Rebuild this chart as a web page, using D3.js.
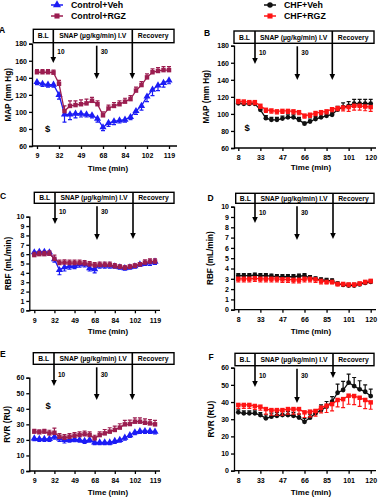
<!DOCTYPE html>
<html>
<head>
<meta charset="utf-8">
<script src="https://cdn.jsdelivr.net/npm/d3@7"></script>
<style>
  body { margin: 0; background: #fff; }
  text { font-family: "Liberation Sans", Arial, sans-serif; font-weight: bold; }
</style>
</head>
<body>
<script>
// tick labels (time, min) - 25 sample points, a label every 4th
const timeCtrl = ["9", "32", "49", "68", "84", "102", "119"];
const timeChf = ["8", "33", "47", "66", "85", "101", "120"];

// MAP (mm Hg)
const mapCtrlVeh = [135, 133, 132, 132, 120, 97, 97, 98, 98, 97, 96, 92, 82, 87, 89, 90, 91, 94, 101, 107, 118, 126, 131, 134, 137];
const mapCtrlVehErr = [3, 3, 3, 3, 5, 9, 6, 5, 4, 3, 3, 4, 4, 4, 4, 3, 3, 3, 4, 5, 6, 7, 6, 5, 4];
const mapCtrlRGZ = [146.5, 146.5, 146.5, 146, 133, 101, 107, 108, 109, 110, 113, 109, 96, 104, 107, 109, 112, 115, 125, 131.5, 140.5, 146.5, 148, 149, 149];
const mapCtrlRGZErr = [3, 3, 3, 3, 4, 6, 6, 5, 5, 5, 4, 4, 4, 4, 4, 4, 4, 4, 4, 4, 4, 4, 4, 4, 4];
const mapChfVeh = [112.5, 111.8, 111.8, 111.8, 104.8, 95, 93, 93, 94.5, 96, 96, 93, 88.5, 91, 94, 96, 97.8, 99, 105, 108, 109.5, 112, 112, 112, 112];
const mapChfVehErr = [2, 2, 2, 2, 2, 3, 3, 3, 3, 3, 3, 3, 2, 3, 3, 3, 3, 3, 4, 5, 5, 5, 5, 5, 5];
const mapChfRGZ = [115, 114.5, 113.8, 113.8, 109.5, 104.8, 104, 103, 103.5, 103.5, 103, 102, 98, 99, 101, 102, 103, 105.5, 106.8, 107.5, 108, 109.5, 109.5, 108.7, 108];
const mapChfRGZErr = [3, 3, 3, 3, 3, 3, 3, 3, 3, 3, 3, 3, 3, 3, 3, 3, 3, 3, 3, 4, 5, 5, 5, 5, 5];

// RBF (mL/min)
const rbfCtrlVeh = [6.2, 6.25, 6.25, 6.2, 5.45, 4.3, 4.6, 4.7, 4.75, 4.9, 4.95, 4.5, 4.4, 4.8, 4.8, 4.8, 4.7, 4.6, 4.5, 4.6, 4.7, 4.9, 5.0, 5.1, 5.2];
const rbfCtrlVehErr = [0.3, 0.3, 0.3, 0.3, 0.3, 0.5, 0.4, 0.3, 0.3, 0.3, 0.3, 0.3, 0.4, 0.3, 0.3, 0.3, 0.2, 0.2, 0.2, 0.2, 0.2, 0.2, 0.2, 0.3, 0.3];
const rbfCtrlRGZ = [5.9, 6.0, 6.0, 6.05, 5.5, 5.05, 5.1, 5.05, 5.05, 5.05, 5.0, 4.9, 4.8, 4.85, 4.85, 4.85, 4.7, 4.65, 4.55, 4.65, 4.75, 4.9, 5.1, 5.2, 5.2];
const rbfCtrlRGZErr = [0.3, 0.3, 0.3, 0.3, 0.4, 0.3, 0.3, 0.3, 0.3, 0.3, 0.3, 0.3, 0.3, 0.3, 0.3, 0.3, 0.3, 0.2, 0.2, 0.2, 0.2, 0.2, 0.3, 0.3, 0.3];
const rbfChfVeh = [3.3, 3.3, 3.3, 3.35, 3.3, 3.3, 3.25, 3.2, 3.2, 3.2, 3.2, 3.25, 3.3, 3.1, 3.0, 2.9, 2.85, 2.8, 2.5, 2.4, 2.35, 2.35, 2.45, 2.6, 2.7];
const rbfChfVehErr = [0.2, 0.2, 0.2, 0.2, 0.2, 0.2, 0.2, 0.2, 0.2, 0.2, 0.2, 0.2, 0.2, 0.2, 0.2, 0.2, 0.2, 0.2, 0.2, 0.2, 0.2, 0.2, 0.2, 0.2, 0.2];
const rbfChfRGZ = [3.0, 3.0, 3.0, 3.05, 3.0, 3.0, 3.0, 3.0, 2.95, 2.95, 2.9, 2.9, 3.0, 3.0, 2.95, 2.8, 2.7, 2.7, 2.5, 2.5, 2.45, 2.45, 2.55, 2.7, 2.8];
const rbfChfRGZErr = [0.3, 0.3, 0.3, 0.3, 0.3, 0.3, 0.3, 0.3, 0.3, 0.3, 0.3, 0.3, 0.3, 0.3, 0.3, 0.3, 0.2, 0.2, 0.2, 0.2, 0.2, 0.2, 0.2, 0.2, 0.2];

// RVR (RU)
const rvrCtrlVeh = [21, 20.6, 20.6, 20.6, 22, 21, 20, 20, 20.4, 20, 19.3, 20, 18.4, 18.4, 18.4, 18.4, 19.3, 20, 21.4, 23.1, 24.9, 25.7, 25.7, 25.7, 25.3];
const rvrCtrlVehErr = [1.5, 1.5, 1.5, 1.5, 1.5, 2, 2, 1.5, 1.5, 1.5, 1.5, 1.5, 1.5, 1.5, 1.5, 1.5, 1.5, 1.5, 1.5, 1.5, 1.5, 1.5, 1.5, 1.5, 1.5];
const rvrCtrlRGZ = [25.3, 24.9, 25.3, 24.2, 24.6, 22, 21.4, 22, 22.7, 23.1, 23.6, 23.1, 21, 23.1, 24.2, 25.3, 26.4, 27.9, 30, 30.2, 31.7, 31.7, 31, 30.6, 30];
const rvrCtrlRGZErr = [1.5, 1.5, 1.5, 2, 3, 2, 2, 2, 2, 2, 2, 2, 2, 2, 2.5, 2.5, 2.5, 2.5, 2.5, 2.5, 2.5, 2.5, 2.5, 2.5, 2.5];
const rvrChfVeh = [34, 33.4, 33.4, 33.4, 32.4, 30.5, 31.5, 32, 32.4, 32.4, 32, 31, 28.5, 30.9, 33.4, 35.3, 37.3, 40.2, 45.4, 47, 51.3, 49.3, 47.4, 46, 43.5];
const rvrChfVehErr = [1.5, 1.5, 1.5, 1.5, 1.5, 2, 2, 2, 2, 2, 2, 2, 2, 2, 2, 3, 3, 3, 5, 5, 5, 5, 5, 4, 4];
const rvrChfRGZ = [38.3, 38.3, 38.3, 37.7, 37.3, 35.9, 35.3, 35.3, 35.3, 35.9, 35.9, 35.9, 34, 34.4, 34.8, 36.7, 37.9, 38.8, 41.2, 41.7, 43.7, 43.5, 42.5, 41.2, 39.8];
const rvrChfRGZErr = [2, 2, 2, 2, 2, 3, 3, 3, 3, 3, 3, 3, 3, 3, 3, 3, 4, 4, 4, 5, 5, 5, 5, 5, 4];

const blue = "#1c1cf5", crimson = "#9b1d50", black = "#111", red = "#ff1414";

var svg = d3.select("body").append("svg").attr("width", 388).attr("height", 500);

// series style: marker shape, colour and which way the error bar goes
const ctrlVeh = { color: blue, shape: d3.symbolTriangle, size: 22, dir: -1 };
const ctrlRGZ = { color: crimson, shape: d3.symbolSquare, size: 20, dir: 1 };
const chfVeh = { color: black, shape: d3.symbolCircle, size: 18, dir: 1 };
const chfRGZ = { color: red, shape: d3.symbolSquare, size: 20, dir: -1 };

const panels = [
  { letter: "A", lx: -1, ly: 33, axisX: 32, axisEnd: 177, x0: 37, x1: 169, yTop: 43.7, yBot: 146, yDom: [60, 180], yTicks: d3.range(60, 181, 20),
    ticks: timeCtrl, yTitle: "MAP (mm Hg)", yTitleX: 8, xTitleX: 108, xTitleY: 171,
    box: [33.3, 174, 29.3, 42.7], div1: 53.3, div2: 132.3, arr2: 96.7, tips: [63, 79, 79], labY: 54,
    s: [[ctrlVeh, mapCtrlVeh, mapCtrlVehErr], [ctrlRGZ, mapCtrlRGZ, mapCtrlRGZErr]], dollar: [45, 131.5] },
  { letter: "B", lx: 204, ly: 36, axisX: 234, axisEnd: 376, x0: 238.3, x1: 370.7, yTop: 45.7, yBot: 148, yDom: [60, 180], yTicks: d3.range(60, 181, 20),
    ticks: timeChf, yTitle: "MAP (mm Hg)", yTitleX: 206, xTitleX: 311, xTitleY: 170,
    box: [234, 374, 31, 43.3], div1: 255, div2: 332.3, arr2: 297.3, tips: [64, 80, 80], labY: 55,
    s: [[chfVeh, mapChfVeh, mapChfVehErr], [chfRGZ, mapChfRGZ, mapChfRGZErr]], dollar: [244.5, 130.5] },
  { letter: "C", lx: 0, ly: 199, axisX: 29.3, axisEnd: 160, x0: 34.3, x1: 155, yTop: 216.7, yBot: 310.3, yDom: [0, 10], yTicks: d3.range(0, 11, 1),
    ticks: timeCtrl, yTitle: "RBF (mL/min)", yTitleX: 8, xTitleX: 108, xTitleY: 334,
    box: [34.3, 174, 192.3, 203.3], div1: 55, div2: 133, arr2: 97, tips: [224, 240, 239], labY: 214,
    s: [[ctrlVeh, rbfCtrlVeh, rbfCtrlVehErr], [ctrlRGZ, rbfCtrlRGZ, rbfCtrlRGZErr]] },
  { letter: "D", lx: 207.5, ly: 201, axisX: 234, axisEnd: 376, x0: 238.3, x1: 370.7, yTop: 206.7, yBot: 309.7, yDom: [0, 10], yTicks: d3.range(0, 11, 1),
    ticks: timeChf, yTitle: "RBF (mL/min)", yTitleX: 210, xTitleX: 311, xTitleY: 334,
    box: [235.7, 374, 193.3, 203.3], div1: 255, div2: 333, arr2: 297, tips: [223, 240, 239], labY: 215,
    s: [[chfVeh, rbfChfVeh, rbfChfVehErr], [chfRGZ, rbfChfRGZ, rbfChfRGZErr]] },
  { letter: "E", lx: 0, ly: 357, axisX: 29.3, axisEnd: 160, x0: 34.3, x1: 155, yTop: 377.7, yBot: 471, yDom: [0, 60], yTicks: d3.range(0, 61, 10),
    ticks: timeCtrl, yTitle: "RVR (RU)", yTitleX: 7.5, xTitleX: 108, xTitleY: 495,
    box: [33.3, 174, 352.7, 364.3], div1: 54, div2: 132.3, arr2: 96.7, tips: [386, 400, 400], labY: 377,
    s: [[ctrlVeh, rvrCtrlVeh, rvrCtrlVehErr], [ctrlRGZ, rvrCtrlRGZ, rvrCtrlRGZErr]], dollar: [45.5, 409] },
  { letter: "F", lx: 208.5, ly: 360, axisX: 234, axisEnd: 376, x0: 238.3, x1: 370.7, yTop: 367.7, yBot: 470.7, yDom: [0, 60], yTicks: d3.range(0, 61, 10),
    ticks: timeChf, yTitle: "RVR (RU)", yTitleX: 211.5, xTitleX: 311, xTitleY: 495,
    box: [235, 374, 353.3, 365.7], div1: 255, div2: 333, arr2: 297, tips: [387, 403, 378], labY: 378,
    s: [[chfVeh, rvrChfVeh, rvrChfVehErr], [chfRGZ, rvrChfRGZ, rvrChfRGZErr]] }
];

function arrow(g, x, y0, y1) {
  g.append("line").attr("x1", x).attr("x2", x).attr("y1", y0).attr("y2", y1 - 5)
    .attr("stroke", "#000").attr("stroke-width", 1.6);
  g.append("path").attr("d", `M${x - 2.8},${y1 - 6}L${x + 2.8},${y1 - 6}L${x},${y1}Z`).attr("fill", "#000");
}

function drawPanel(p) {
  const g = svg.append("g");
  const idx = d3.range(25);
  const x = d3.scaleLinear().domain([0, 24]).range([p.x0, p.x1]);
  const y = d3.scaleLinear().domain(p.yDom).range([p.yBot, p.yTop]);

  // axes
  g.append("g").attr("transform", `translate(${p.axisX},0)`)
    .call(d3.axisLeft(y).tickValues(p.yTicks).tickSize(3).tickPadding(2))
    .call(a => a.selectAll("text").attr("font-size", 7).attr("font-weight", "bold"))
    .call(a => a.selectAll("line,path").attr("stroke-width", 1.3));
  g.append("g").attr("transform", `translate(0,${p.yBot})`)
    .call(d3.axisBottom(x).tickValues([0, 4, 8, 12, 16, 20, 24]).tickFormat((d, i) => p.ticks[i]).tickSize(3).tickPadding(4.5))
    .call(a => a.select(".domain").remove())
    .call(a => a.selectAll("text").attr("font-size", 7).attr("font-weight", "bold"))
    .call(a => a.selectAll("line").attr("stroke-width", 1.3));
  g.append("line").attr("x1", p.axisX).attr("x2", p.axisEnd).attr("y1", p.yBot).attr("y2", p.yBot)
    .attr("stroke", "#000").attr("stroke-width", 1.3);

  // titles
  g.append("text").attr("transform", `translate(${p.yTitleX},${(p.yTop + p.yBot) / 2}) rotate(-90)`)
    .attr("text-anchor", "middle").attr("dy", "0.35em").attr("font-size", 8.2).text(p.yTitle);
  g.append("text").attr("x", p.xTitleX).attr("y", p.xTitleY).attr("text-anchor", "middle").attr("font-size", 8).text("Time (min)");
  g.append("text").attr("x", p.lx).attr("y", p.ly).attr("font-size", 8.5).text(p.letter);

  // protocol box
  const b = p.box;
  g.append("rect").attr("x", b[0]).attr("y", b[2]).attr("width", b[1] - b[0]).attr("height", b[3] - b[2])
    .attr("fill", "none").attr("stroke", "#000").attr("stroke-width", 1.4);
  const mid = (b[2] + b[3]) / 2;
  [[b[0], p.div1, "B.L"], [p.div1, p.div2, "SNAP (µg/kg/min) I.V"], [p.div2, b[1], "Recovery"]].forEach(t => {
    g.append("text").attr("x", (t[0] + t[1]) / 2).attr("y", mid).attr("dy", "0.36em")
      .attr("text-anchor", "middle").attr("font-size", 6.8).text(t[2]);
  });
  arrow(g, p.div1, b[2], p.tips[0]);
  arrow(g, p.arr2, b[3] + 3, p.tips[1]);
  arrow(g, p.div2, b[2], p.tips[2]);
  g.append("text").attr("x", p.div1 + 4).attr("y", p.labY).attr("font-size", 6.5).text("10");
  g.append("text").attr("x", p.arr2 + 4).attr("y", p.labY).attr("font-size", 6.5).text("30");
  if (p.dollar) g.append("text").attr("x", p.dollar[0]).attr("y", p.dollar[1]).attr("font-size", 9.5).text("$");

  // series
  p.s.forEach(([st, vals, err]) => {
    const sg = g.append("g");
    sg.append("path").datum(idx).attr("fill", "none").attr("stroke", st.color).attr("stroke-width", 1.3)
      .attr("d", d3.line().x(i => x(i)).y(i => y(vals[i])));
    sg.selectAll(".eb").data(idx).join("path")
      .attr("fill", "none").attr("stroke", st.color).attr("stroke-width", 1.2)
      .attr("d", i => {
        const xi = x(i), y0 = y(vals[i]), y1 = y(vals[i] + st.dir * err[i]);
        return `M${xi},${y0}L${xi},${y1}M${xi - 2},${y1}L${xi + 2},${y1}`;
      });
    sg.selectAll(".mk").data(idx).join("path")
      .attr("transform", i => `translate(${x(i)},${y(vals[i])})`)
      .attr("d", d3.symbol().type(st.shape).size(st.size)).attr("fill", st.color);
  });
}

panels.forEach(drawPanel);

// legends
function legend(x, y, st, label) {
  svg.append("line").attr("x1", x).attr("x2", x + 12).attr("y1", y).attr("y2", y)
    .attr("stroke", st.color).attr("stroke-width", 1.5);
  svg.append("path").attr("transform", `translate(${x + 6},${y})`)
    .attr("d", d3.symbol().type(st.shape).size(st.size + 6)).attr("fill", st.color);
  svg.append("text").attr("x", x + 20).attr("y", y).attr("dy", "0.36em").attr("font-size", 8.8).text(label);
}
legend(51, 5, ctrlVeh, "Control+Veh");
legend(51, 16, ctrlRGZ, "Control+RGZ");
legend(264, 5, chfVeh, "CHF+Veh");
legend(264, 16, chfRGZ, "CHF+RGZ");
</script>
</body>
</html>
